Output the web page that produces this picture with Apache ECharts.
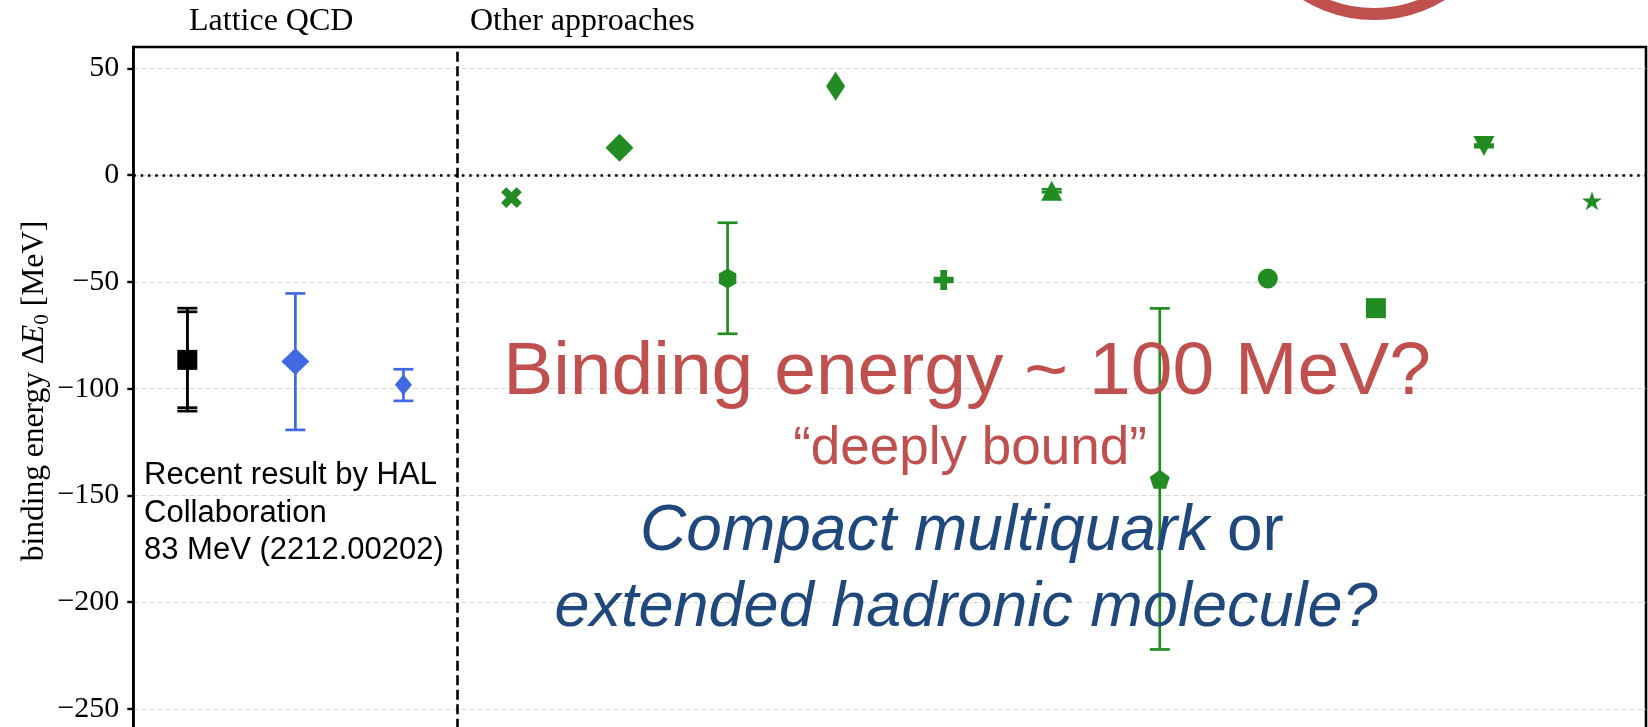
<!DOCTYPE html>
<html>
<head>
<meta charset="utf-8">
<script src="https://cdn.jsdelivr.net/npm/echarts@6/dist/echarts.min.js"></script>
<style>
  html, body { margin: 0; padding: 0; background: #ffffff; overflow: hidden; }
  #chart { width: 1648px; height: 727px; }
</style>
</head>
<body>
<div id="chart"></div>
<script>
// ---- Lattice QCD results (left panel) ----
const latticeX = [0.5, 1.5, 2.5];
const latticeE = [-86.5, -87.3, -98.2];
const latticeLow = [-108.9, -119.3, -105.7];
const latticeHigh = [-62.3, -55.4, -90.9];
const latticeSysLow = [-110.5, null, null];
const latticeSysHigh = [-64.0, null, null];
const latticeMarkers = ['s', 'D', 'd'];

// ---- Other approaches (right panel) ----
const otherX = [3.5, 4.5, 5.5, 6.5, 7.5, 8.5, 9.5, 10.5, 11.5, 12.5, 13.5];
const otherE = [-10.5, 12.8, -48.4, 41.6, -49.1, -7.3, -142.4, -48.4, -62.3, 13.7, -12.0];
const otherLow = [null, null, -74.3, null, null, -8.0, -222.1, null, null, 13.1, null];
const otherHigh = [null, null, -22.3, null, null, -6.6, -62.4, null, null, 14.3, null];
const otherMarkers = ['X', 'D', 'h', 'd', 'P', '^', 'p', 'o', 's', 'v', '*'];

// ---- axes ----
const yTicks = [-250, -200, -150, -100, -50, 0, 50];
const dividerX = 3;
const zeroLevel = 0;

// marker glyphs (matplotlib-like shapes)
const PLUS = 'path://M-1,-3L1,-3L1,-1L3,-1L3,1L1,1L1,3L-1,3L-1,1L-3,1L-3,-1L-1,-1Z';
const HEXAGON = 'path://M0,-1L0.866,-0.5L0.866,0.5L0,1L-0.866,0.5L-0.866,-0.5Z';
const PENTAGON = 'path://M0,-1L0.951,-0.309L0.588,0.809L-0.588,0.809L-0.951,-0.309Z';
const STAR = 'path://M0,-1L0.2245,-0.309L0.951,-0.309L0.3633,0.118L0.5878,0.809L0,0.382L-0.5878,0.809L-0.3633,0.118L-0.951,-0.309L-0.2245,-0.309Z';

const SHAPES = {
  s: { symbol: 'rect', size: [20, 20], rotate: 0 },
  D: { symbol: 'diamond', size: [28, 28], rotate: 0 },
  d: { symbol: 'diamond', size: [19, 29], rotate: 0 },
  h: { symbol: HEXAGON, size: [17.5, 20], rotate: 0 },
  p: { symbol: PENTAGON, size: [20, 19], rotate: 0 },
  P: { symbol: PLUS, size: [20, 20], rotate: 0 },
  X: { symbol: PLUS, size: [22, 22], rotate: 45 },
  '^': { symbol: 'triangle', size: [21, 20], rotate: 0 },
  v: { symbol: 'triangle', size: [21, 20], rotate: 180 },
  o: { symbol: 'circle', size: [20, 20], rotate: 0 },
  '*': { symbol: STAR, size: [20, 19], rotate: 0 }
};
const latticeColors = ['#000000', '#4169E1', '#4169E1'];
const latticeSizes = [[20, 20], [28, 27], [17, 21]];
const GREEN = '#228B22';

function markerItems(xs, ys, codes, colors, sizes) {
  return xs.map(function (x, i) {
    const sh = SHAPES[codes[i]];
    return {
      value: [x, ys[i]],
      symbol: sh.symbol,
      symbolSize: sizes ? sizes[i] : sh.size,
      symbolRotate: sh.rotate,
      itemStyle: { color: colors ? colors[i] : GREEN, opacity: 1 }
    };
  });
}

function errorItems(xs, lows, highs) {
  const out = [];
  xs.forEach(function (x, i) {
    if (lows[i] !== null && highs[i] !== null) out.push([x, lows[i], highs[i]]);
  });
  return out;
}

function errorSeries(data, color) {
  return {
    type: 'custom',
    silent: true,
    z: 3,
    encode: { x: 0, y: [1, 2] },
    data: data,
    renderItem: function (params, api) {
      const x = api.value(0);
      const lo = api.coord([x, api.value(1)]);
      const hi = api.coord([x, api.value(2)]);
      const half = 10;
      const st = { stroke: color, lineWidth: 2.7 };
      return {
        type: 'group',
        children: [
          { type: 'line', shape: { x1: lo[0], y1: lo[1], x2: hi[0], y2: hi[1] }, style: st },
          { type: 'line', shape: { x1: lo[0] - half, y1: lo[1], x2: lo[0] + half, y2: lo[1] }, style: st },
          { type: 'line', shape: { x1: hi[0] - half, y1: hi[1], x2: hi[0] + half, y2: hi[1] }, style: st }
        ]
      };
    }
  };
}

const SERIF = '"Liberation Serif", "DejaVu Serif", serif';
const SANS = '"Liberation Sans", Arial, sans-serif';
const RED = '#C0504D';
const NAVY = '#1F497D';

const chart = echarts.init(document.getElementById('chart'), null, { renderer: 'canvas' });

chart.setOption({
  animation: false,
  backgroundColor: '#ffffff',
  grid: {
    left: 133.3, top: 47, width: 1512.7, height: 768.8,
    outerBoundsMode: 'none', containLabel: false,
    show: true, borderColor: '#000000', borderWidth: 2.6, backgroundColor: 'transparent'
  },
  xAxis: {
    type: 'value', min: 0, max: 14,
    axisLine: { show: false }, axisTick: { show: false },
    axisLabel: { show: false }, splitLine: { show: false }
  },
  yAxis: {
    type: 'value', min: -300, max: 60, interval: 50,
    axisLine: { show: true, onZero: false, lineStyle: { color: '#000000', width: 2.6 } },
    axisTick: { show: true, length: 6, inside: false, customValues: yTicks,
      lineStyle: { color: '#000000', width: 2.4 } },
    axisLabel: {
      show: true, customValues: yTicks, margin: 14,
      fontFamily: SERIF, fontSize: 30, color: '#000000', padding: [4, 0, 0, 0],
      formatter: function (v) { return v < 0 ? '\u2212' + Math.abs(v) : String(v); }
    },
    splitLine: { show: true, lineStyle: { color: '#d6d6d6', width: 1.2, type: [5, 3] } }
  },
  series: [
    errorSeries(errorItems(latticeX.slice(0, 1), latticeSysLow.slice(0, 1), latticeSysHigh.slice(0, 1)), '#000000'),
    errorSeries(errorItems(latticeX.slice(0, 1), latticeLow.slice(0, 1), latticeHigh.slice(0, 1)), '#000000'),
    errorSeries(errorItems(latticeX.slice(1), latticeLow.slice(1), latticeHigh.slice(1)), '#4169E1'),
    errorSeries(errorItems(otherX, otherLow, otherHigh), GREEN),
    {
      type: 'scatter', silent: true, z: 4,
      itemStyle: { opacity: 1 },
      data: markerItems(latticeX, latticeE, latticeMarkers, latticeColors, latticeSizes)
    },
    {
      type: 'scatter', silent: true, z: 4,
      itemStyle: { opacity: 1 },
      data: markerItems(otherX, otherE, otherMarkers, null, null),
      markLine: {
        silent: true, symbol: 'none', animation: false,
        label: { show: false },
        data: [
          { yAxis: zeroLevel, lineStyle: { color: '#000000', width: 2.6, type: [2.6, 4.7] } },
          { xAxis: dividerX, lineStyle: { color: '#000000', width: 2.6, type: [10, 4.5] } }
        ]
      }
    }
  ],
  graphic: [
    {
      type: 'circle', silent: true, z: 10,
      shape: { cx: 1374, cy: -116, r: 130 },
      style: { fill: 'none', stroke: RED, lineWidth: 12 }
    },
    {
      type: 'text', x: 189, y: 22, silent: true,
      style: { text: 'Lattice QCD', fontFamily: SERIF, fontSize: 32, fill: '#000000', align: 'left', verticalAlign: 'middle' }
    },
    {
      type: 'text', x: 470, y: 22, silent: true,
      style: { text: 'Other approaches', fontFamily: SERIF, fontSize: 32, fill: '#000000', align: 'left', verticalAlign: 'middle' }
    },
    {
      type: 'text', x: 34.5, y: 391, rotation: Math.PI / 2, silent: true,
      style: {
        text: '{n|binding energy \u0394}{i|E}{s|0}{n| [MeV]}',
        align: 'center', verticalAlign: 'middle',
        rich: {
          n: { fontFamily: SERIF, fontSize: 31.5, fill: '#000000', lineHeight: 36 },
          i: { fontFamily: SERIF, fontSize: 31.5, fontStyle: 'italic', fill: '#000000', lineHeight: 36 },
          s: { fontFamily: SERIF, fontSize: 21, fill: '#000000', lineHeight: 20, verticalAlign: 'bottom' }
        }
      }
    },
    {
      type: 'text', x: 144, y: 513, silent: true, z: 5,
      style: {
        text: 'Recent result by HAL\nCollaboration\n83 MeV (2212.00202)',
        fontFamily: SANS, fontSize: 31, lineHeight: 37.2, fill: '#000000',
        align: 'left', verticalAlign: 'middle'
      }
    },
    {
      type: 'text', x: 967, y: 373, silent: true, z: 5,
      style: { text: 'Binding energy ~ 100 MeV?', fontFamily: SANS, fontSize: 75, fill: RED, align: 'center', verticalAlign: 'middle' }
    },
    {
      type: 'text', x: 970, y: 449, silent: true, z: 5,
      style: { text: '\u201Cdeeply bound\u201D', fontFamily: SANS, fontSize: 53, fill: RED, align: 'center', verticalAlign: 'middle' }
    },
    {
      type: 'text', x: 962, y: 532, silent: true, z: 5,
      style: {
        text: '{i|Compact multiquark}{n| or}',
        align: 'center', verticalAlign: 'middle',
        rich: {
          i: { fontFamily: SANS, fontSize: 64, fontStyle: 'italic', fill: NAVY },
          n: { fontFamily: SANS, fontSize: 64, fill: NAVY }
        }
      }
    },
    {
      type: 'text', x: 966, y: 608, silent: true, z: 5,
      style: { text: 'extended hadronic molecule?', fontFamily: SANS, fontSize: 63, fontStyle: 'italic', fill: NAVY, align: 'center', verticalAlign: 'middle' }
    }
  ]
});
</script>
</body>
</html>
